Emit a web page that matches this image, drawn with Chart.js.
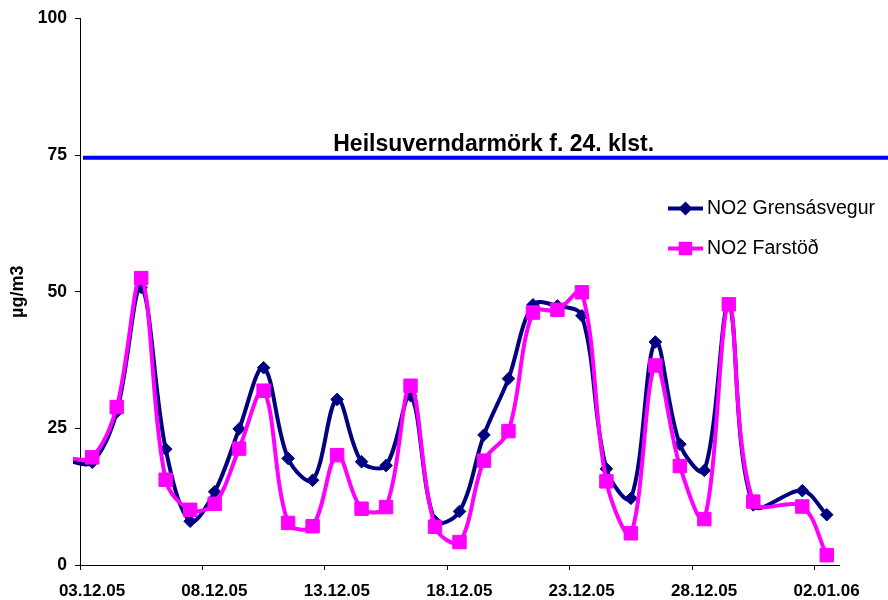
<!DOCTYPE html>
<html><head><meta charset="utf-8">
<script src="https://cdn.jsdelivr.net/npm/chart.js@4/dist/chart.umd.min.js"></script>
<style>html,body{margin:0;padding:0;background:#fff}canvas{display:block}</style>
</head><body>
<canvas id="c" width="888" height="600"></canvas>
<script>
// Daily averages (plotted at noon of each date)
const dates = ['02.12.05','03.12.05','04.12.05','05.12.05','06.12.05','07.12.05','08.12.05','09.12.05',
  '10.12.05','11.12.05','12.12.05','13.12.05','14.12.05','15.12.05','16.12.05','17.12.05','18.12.05',
  '19.12.05','20.12.05','21.12.05','22.12.05','23.12.05','24.12.05','25.12.05','26.12.05','27.12.05',
  '28.12.05','29.12.05','30.12.05','31.12.05','01.01.06','02.01.06'];
const grensasvegur = [19.0,18.8,28.0,50.8,21.2,8.0,13.4,24.9,36.1,19.5,15.5,30.3,18.9,18.2,31.0,8.0,9.8,
  23.8,34.1,47.6,47.4,45.6,17.6,12.2,40.8,22.1,17.3,47.6,11.0,null,13.6,9.2];
const farstod = [19.5,19.7,28.9,52.5,15.6,10.1,11.2,21.3,31.9,7.7,7.1,20.1,10.3,10.6,32.8,7.0,4.2,
  19.1,24.5,46.2,46.7,49.9,15.3,5.8,36.5,18.1,8.4,47.7,11.6,null,10.7,1.8];
const seriesNames = ['NO2 Grensásvegur','NO2 Farstöð'];
const xTickLabels = ['03.12.05','08.12.05','13.12.05','18.12.05','23.12.05','28.12.05','02.01.06'];
const yTicks = [0,25,50,75,100];
const limitValue = 74.5;
const limitLabel = 'Heilsuverndarmörk f. 24. klst.';
const yTitle = 'µg/m3';

const FONT = "'Liberation Sans', Arial, sans-serif";
const NAVY = '#000080', PINK = '#FF00FF', BLUE = '#0000FF';

function dayNum(s){ const p = s.split('.').map(Number); return (Date.UTC(2000+p[2], p[1]-1, p[0]) - Date.UTC(2005,11,3)) / 86400000; }
const xs = dates.map(d => dayNum(d) + 0.5);
function pts(vals){ return vals.map((v,i)=>({x:xs[i], y:v})).filter(p => p.y !== null); }

const limitPlugin = {
  id: 'limit',
  beforeDatasetsDraw(chart){
    const {ctx, chartArea} = chart;
    const py = chart.scales.y.getPixelForValue(limitValue);
    ctx.save();
    ctx.strokeStyle = BLUE; ctx.lineWidth = 4;
    ctx.beginPath(); ctx.moveTo(chartArea.left + 3, py); ctx.lineTo(chart.width, py); ctx.stroke();
    ctx.fillStyle = '#000'; ctx.font = 'bold 23px ' + FONT;
    ctx.textAlign = 'center'; ctx.textBaseline = 'alphabetic';
    ctx.fillText(limitLabel, chartArea.left + 0.545 * (chartArea.right - chartArea.left), py - 7);
    ctx.restore();
  }
};

function marker(ctx, style, x, y, r, color){
  ctx.fillStyle = color; ctx.beginPath();
  if (style === 'rectRot') { ctx.moveTo(x-r,y); ctx.lineTo(x,y-r); ctx.lineTo(x+r,y); ctx.lineTo(x,y+r); ctx.closePath(); }
  else { const h = r*Math.SQRT1_2; ctx.rect(x-h, y-h, 2*h, 2*h); }
  ctx.fill();
}

const legendPlugin = {
  id: 'customLegend',
  afterDraw(chart){
    const {ctx, chartArea} = chart;
    const x0 = chartArea.right - 171;
    const rowsY = [chartArea.top + 190, chartArea.top + 230];
    chart.data.datasets.forEach((ds, i) => {
      const y = rowsY[i];
      ctx.save();
      ctx.strokeStyle = ds.borderColor; ctx.lineWidth = 4;
      ctx.beginPath(); ctx.moveTo(x0, y); ctx.lineTo(x0 + 35, y); ctx.stroke();
      marker(ctx, ds.pointStyle, x0 + 17.5, y, ds.pointStyle === 'rectRot' ? 7 : 9.5, ds.borderColor);
      ctx.fillStyle = '#000'; ctx.font = '19.5px ' + FONT;
      ctx.textAlign = 'left'; ctx.textBaseline = 'middle';
      ctx.fillText(ds.label, x0 + 39, y);
      ctx.restore();
    });
  }
};

const axisGrid = {display:true, drawOnChartArea:false, drawTicks:true, tickLength:5, color:'#000', lineWidth:1};

new Chart(document.getElementById('c'), {
  type: 'line',
  data: {
    datasets: [
      { label: seriesNames[0], data: pts(grensasvegur), borderColor: NAVY, backgroundColor: NAVY,
        borderWidth: 4, pointStyle: 'rectRot', pointBorderWidth: 1, pointBorderColor: NAVY,
        pointRadius: c => (c.raw && c.raw.x < 0) ? 0 : 6.3, tension: 0.35, order: 1,
        clip: {left: 7, top: 5, right: 5, bottom: 5} },
      { label: seriesNames[1], data: pts(farstod), borderColor: PINK, backgroundColor: PINK,
        borderWidth: 4, pointStyle: 'rect', pointBorderWidth: 1, pointBorderColor: PINK,
        pointRadius: c => (c.raw && c.raw.x < 0) ? 0 : 9.5, tension: 0.35, order: 0,
        clip: {left: 7, top: 5, right: 5, bottom: 5} }
    ]
  },
  options: {
    responsive: false, animation: false,
    layout: {padding: {top: 15, right: 49, left: 0, bottom: 0}},
    plugins: {legend: {display: false}, tooltip: {enabled: false}},
    scales: {
      x: {
        type: 'linear', min: 0, max: 31,
        afterFit(s){ s.height = 35; },
        afterBuildTicks(s){ s.ticks = xTickLabels.map(l => ({value: dayNum(l)})); },
        grid: axisGrid,
        border: {display: true, color: '#000', width: 1},
        ticks: {autoSkip: false, maxRotation: 0, padding: 11, labelOffset: 12, color: '#000',
          font: {family: FONT, size: 17, weight: 'bold'},
          callback: (v, i) => xTickLabels[i]}
      },
      y: {
        min: 0, max: 100,
        afterFit(s){ s.width = 80; },
        afterBuildTicks(s){ s.ticks = yTicks.map(v => ({value: v})); },
        grid: axisGrid,
        border: {display: true, color: '#000', width: 1},
        ticks: {padding: 8, color: '#000', font: {family: FONT, size: 17.5, weight: 'bold'}},
        title: {display: true, text: yTitle, color: '#000', font: {family: FONT, size: 18, weight: 'bold'},
          padding: {top: 7, bottom: 0}}
      }
    }
  },
  plugins: [limitPlugin, legendPlugin]
});
</script>
</body></html>
